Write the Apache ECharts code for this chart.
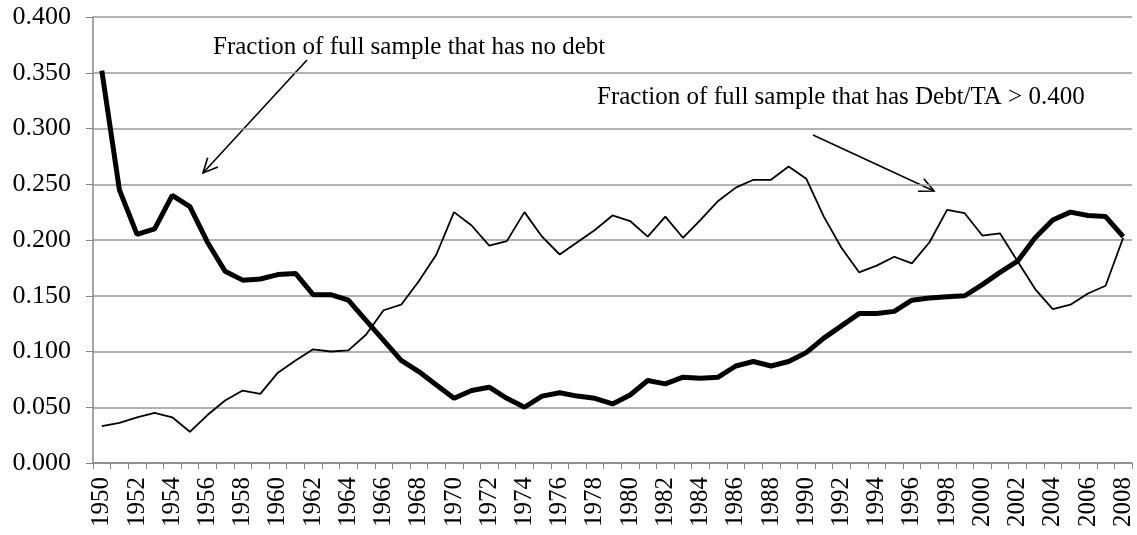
<!DOCTYPE html>
<html lang="en">
<head>
    <meta charset="UTF-8">
    <title>Debt fractions</title>
    <style>
    html, body { margin: 0; padding: 0; background: #fff; }
    #main { width: 1137px; height: 535px; }
    </style>
</head>
<body>
<div id="main"></div>
<script src="https://cdn.jsdelivr.net/npm/echarts@6/dist/echarts.min.js"></script>
<script>
// years 1950..2008
var years = [];
for (var y = 1950; y <= 2008; y++) years.push(String(y));

// fraction of full sample that has no debt (thick line)
var noDebt = [
    0.352, 0.245, 0.205, 0.210, 0.240, 0.230, 0.198, 0.172, 0.164, 0.165,
    0.169, 0.170, 0.151, 0.151, 0.146, 0.128, 0.110, 0.092, 0.082, 0.070,
    0.058, 0.065, 0.068, 0.058, 0.050, 0.060, 0.063, 0.060, 0.058, 0.053,
    0.061, 0.074, 0.071, 0.077, 0.076, 0.077, 0.087, 0.091, 0.087, 0.091,
    0.099, 0.112, 0.123, 0.134, 0.134, 0.136, 0.146, 0.148, 0.149, 0.150,
    0.160, 0.171, 0.181, 0.202, 0.218, 0.225, 0.222, 0.221, 0.203
];

// fraction of full sample that has Debt/TA > 0.400 (thin line)
var highDebt = [
    0.033, 0.036, 0.041, 0.045, 0.041, 0.028, 0.043, 0.056, 0.065, 0.062,
    0.081, 0.092, 0.102, 0.100, 0.101, 0.115, 0.137, 0.142, 0.163, 0.187,
    0.225, 0.213, 0.195, 0.199, 0.225, 0.203, 0.187, 0.198, 0.209, 0.222,
    0.217, 0.203, 0.221, 0.202, 0.218, 0.235, 0.247, 0.254, 0.254, 0.266,
    0.255, 0.221, 0.193, 0.171, 0.177, 0.185, 0.179, 0.198, 0.227, 0.224,
    0.204, 0.206, 0.181, 0.156, 0.138, 0.142, 0.152, 0.159, 0.202
];

var noDebtNote = 'Fraction of full sample that has no debt';
var highDebtNote = 'Fraction of full sample that has Debt/TA > 0.400';

var font = '"Liberation Serif", "Times New Roman", serif';
var axisGrey = '#868686';

// arrow: shaft plus open V head
function arrow(x1, y1, x2, y2) {
    var ang = Math.atan2(y2 - y1, x2 - x1);
    var len = 16, spread = 0.45;
    var a = [x2 - len * Math.cos(ang - spread), y2 - len * Math.sin(ang - spread)];
    var b = [x2 - len * Math.cos(ang + spread), y2 - len * Math.sin(ang + spread)];
    var st = { stroke: '#000', lineWidth: 1.6, fill: null };
    return [
        { type: 'line', shape: { x1: x1, y1: y1, x2: x2, y2: y2 }, style: st },
        { type: 'polyline', shape: { points: [a, [x2, y2], b] }, style: st }
    ];
}

var myChart = echarts.init(document.getElementById('main'));
var option = {
    animation: false,
    grid: { left: 93, right: 5, top: 17, bottom: 72 },
    xAxis: {
        type: 'category',
        data: years,
        boundaryGap: true,
        axisLine: { lineStyle: { color: axisGrey, width: 1.5 } },
        axisTick: { show: true, interval: 0, length: 6, lineStyle: { color: axisGrey } },
        axisLabel: {
            interval: 1,
            rotate: 90,
            color: '#000',
            fontFamily: font,
            fontSize: 25,
            margin: 14
        },
        splitLine: { show: false }
    },
    yAxis: {
        type: 'value',
        min: 0,
        max: 0.4,
        interval: 0.05,
        axisLine: { show: true, lineStyle: { color: axisGrey, width: 1.5 } },
        axisTick: { show: true, length: 7, lineStyle: { color: axisGrey } },
        axisLabel: {
            color: '#000',
            fontFamily: font,
            fontSize: 26,
            margin: 22,
            formatter: function (v) { return v.toFixed(3); }
        },
        splitLine: { lineStyle: { color: '#999', width: 1.5 } }
    },
    series: [
        {
            name: 'no debt',
            type: 'line',
            data: noDebt,
            symbol: 'none',
            lineStyle: { color: '#000', width: 5 }
        },
        {
            name: 'debt/TA > 0.4',
            type: 'line',
            data: highDebt,
            symbol: 'none',
            lineStyle: { color: '#000', width: 1.8 }
        }
    ],
    graphic: [
        {
            type: 'text', left: 213, top: 35,
            style: { text: noDebtNote, fill: '#000', font: '25px ' + font }
        },
        {
            type: 'text', left: 597, top: 85,
            style: { text: highDebtNote, fill: '#000', font: '25px ' + font }
        }
    ].concat(arrow(307, 60, 203, 173), arrow(813, 135, 934, 191))
};
myChart.setOption(option);
</script>
</body>
</html>
